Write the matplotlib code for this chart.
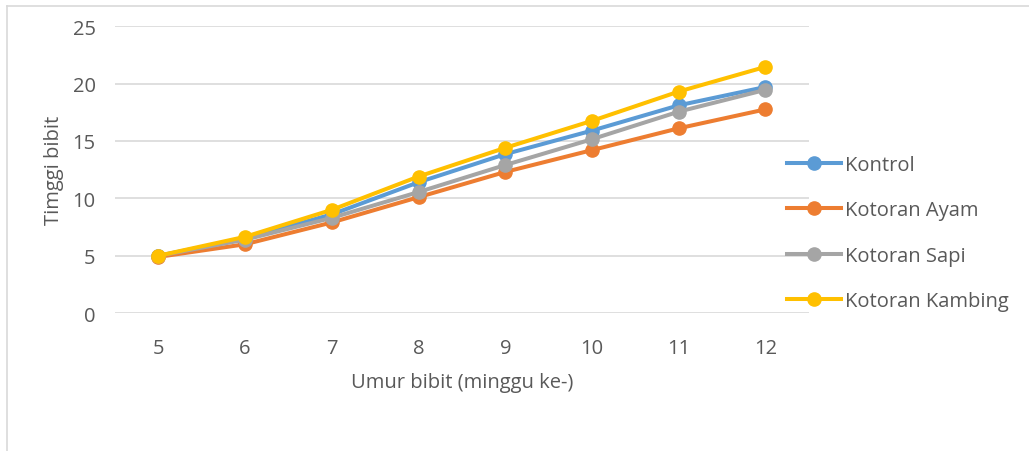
import numpy as np
import matplotlib
matplotlib.use('Agg')
from matplotlib import pyplot as plt
from matplotlib.lines import Line2D

###### Data
minggu = [5, 6, 7, 8, 9, 10, 11, 12]
kontrol = [5.0, 6.5, 8.6, 11.4, 13.85, 15.9, 18.1, 19.7]
kotoran_ayam = [4.9, 6.0, 7.9, 10.1, 12.3, 14.2, 16.1, 17.75]
kotoran_sapi = [5.0, 6.4, 8.3, 10.55, 12.9, 15.15, 17.55, 19.45]
kotoran_kambing = [5.0, 6.65, 9.0, 11.9, 14.4, 16.75, 19.3, 21.45]

series = [('Kontrol', kontrol, '#5B9BD5'),
          ('Kotoran Ayam', kotoran_ayam, '#ED7D31'),
          ('Kotoran Sapi', kotoran_sapi, '#A5A5A5'),
          ('Kotoran Kambing', kotoran_kambing, '#FFC000')]

plt.rcParams['font.family'] = ['Open Sans', 'DejaVu Sans']
txt = '#595959'
fs = 14.5

###### Plot
fig = plt.figure(figsize=(10.29, 4.52), dpi=100)
ax = fig.add_axes([0.1118, 0.305, 0.6742, 0.635])

x = np.arange(len(minggu))
for label, vals, col in series:
    ax.plot(x, vals, color=col, lw=2.9, marker='o', ms=9.5, label=label)

ax.set_xlim(-0.5, len(minggu) - 0.5)
ax.set_ylim(0, 25)
ax.set_yticks(range(0, 26, 5))
ax.set_xticks(x)
ax.set_xticklabels([str(m) for m in minggu])
ax.grid(axis='y', color='#D9D9D9', lw=1.2)
ax.set_axisbelow(True)
for s in ax.spines.values():
    s.set_visible(False)
ax.tick_params(length=0, labelsize=fs, colors=txt)
ax.tick_params(axis='y', pad=14)
ax.tick_params(axis='x', pad=18)

ax.set_xlabel('Umur bibit (minggu ke-)', fontsize=fs, color=txt, labelpad=10)
ax.set_ylabel('Timggi bibit', fontsize=fs, color=txt, labelpad=6)

leg = ax.legend(loc='upper left', bbox_to_anchor=(0.757, 0.672),
                bbox_transform=fig.transFigure, frameon=False,
                fontsize=fs, handlelength=2.7, handletextpad=0.2,
                labelspacing=1.25, borderaxespad=0)
for t in leg.get_texts():
    t.set_color(txt)

# outer chart border (only top and left visible)
fig.add_artist(Line2D([0.0068, 1.0], [1 - 7 / 452, 1 - 7 / 452], color='#D9D9D9', lw=1.2))
fig.add_artist(Line2D([0.0068, 0.0068], [0, 1 - 7 / 452], color='#D9D9D9', lw=1.2))

fig.savefig('out.png', dpi=100)
